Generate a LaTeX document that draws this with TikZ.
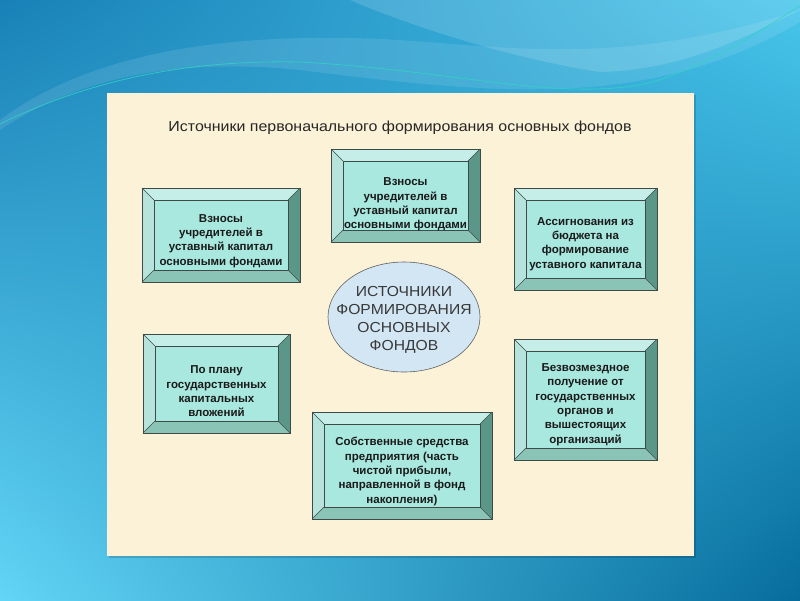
\documentclass[tikz,border=0pt]{standalone}
\usepackage{fontspec}
\setmainfont{Liberation Sans}
\usetikzlibrary{fit,shapes.geometric,shadings}
\definecolor{panel}{HTML}{FCF2D8}
\definecolor{face}{HTML}{A8E8DF}
\definecolor{bevT}{HTML}{C6EEE8}
\definecolor{bevL}{HTML}{B6E4DC}
\definecolor{bevR}{HTML}{5B9788}
\definecolor{bevB}{HTML}{8AC4B6}
\definecolor{edgec}{HTML}{3E4A48}
\definecolor{ellfill}{HTML}{D3E6F4}
\definecolor{txt}{HTML}{1A1A1A}
\definecolor{bgA}{HTML}{1880B6}
\definecolor{bgB}{HTML}{48C6EC}
\definecolor{bgC}{HTML}{62D6F6}
\definecolor{bgD}{HTML}{066C9C}
\definecolor{wave}{HTML}{34D2C4}
\tikzset{
  edgeline/.style={draw=edgec, line width=0.6pt},
  facebox/.style={fill=face, draw=edgec, line width=0.6pt, inner sep=0pt},
  boxtext/.style={align=center, inner sep=0pt, text=txt,
     font=\fontsize{11.5}{14.3}\selectfont\bfseries},
  centerell/.style={ellipse, draw=gray!75!black, fill=ellfill, line width=0.6pt,
     inner sep=0pt, minimum width=152pt, minimum height=110pt},
  centertext/.style={align=center, inner sep=0pt, text=black!78,
     font=\fontsize{14.5}{18}\selectfont},
  titletext/.style={text=black!85, inner sep=0pt, font=\fontsize{14.5}{17}\selectfont}
}
\newcommand\bevelbox[7][7]{%
  \fill[bevT] (#3,#4) -- (#5,#4) -- (#5-12,#4+12) -- (#3+12,#4+12) -- cycle;
  \fill[bevL] (#3,#4) -- (#3+12,#4+12) -- (#3+12,#6-12) -- (#3,#6) -- cycle;
  \fill[bevR] (#5,#4) -- (#5,#6) -- (#5-12,#6-12) -- (#5-12,#4+12) -- cycle;
  \fill[bevB] (#3,#6) -- (#3+12,#6-12) -- (#5-12,#6-12) -- (#5,#6) -- cycle;
  \draw[edgeline] (#3,#4) rectangle (#5,#6);
  \draw[edgeline] (#3,#4) -- (#3+12,#4+12) (#5,#4) -- (#5-12,#4+12)
                  (#3,#6) -- (#3+12,#6-12) (#5,#6) -- (#5-12,#6-12);
  \coordinate (#2-nw) at (#3+12,#4+12);
  \coordinate (#2-se) at (#5-12,#6-12);
  \node[facebox, fit=(#2-nw)(#2-se)] (#2) {};
  \node[boxtext, yshift=-#1pt] (#2-text) at (#2.center) {#7};
}
\begin{document}
\begin{tikzpicture}[x=1pt,y=-1pt]
\useasboundingbox (0,0) rectangle (800,600);
% background
\shade[upper left=bgA, upper right=bgB, lower left=bgC, lower right=bgD] (0,0) rectangle (800,600);
\fill[white, opacity=0.10] (0,120) .. controls (80,60) and (200,35) .. (350,38)
   .. controls (480,40) and (600,75) .. (800,10) -- (800,22)
   .. controls (650,110) and (500,95) .. (300,70) .. controls (150,55) and (60,90) .. (0,130) -- cycle;
\fill[white, opacity=0.14] (350,0) .. controls (420,30) and (520,60) .. (600,72)
   .. controls (680,70) and (740,40) .. (800,10) -- (800,0) -- cycle;
\draw[wave, line width=0.8pt, opacity=0.8] (0,124) .. controls (100,75) and (200,60) .. (300,62)
   .. controls (450,70) and (550,100) .. (640,85) .. controls (700,72) and (760,30) .. (800,6);
% panel
\fill[black, opacity=0.15] (109,95) rectangle (696,558);
\fill[panel] (107,93) rectangle (694,556);
\node[titletext] (title) at (400,128) {\scalebox{1.1}[1]{Источники первоначального формирования основных фондов}};
% boxes
\bevelbox[9]{top}{331}{149}{480}{242}{Взносы\\учредителей в\\уставный капитал\\основными фондами}
\bevelbox[6]{left}{142}{188}{300}{282}{Взносы\\учредителей в\\уставный капитал\\основными фондами}
\bevelbox[5]{right}{514}{188}{657}{290}{Ассигнования из\\бюджета на\\формирование\\уставного капитала}
\bevelbox[8]{lowleft}{143}{334}{290}{433}{По плану\\государственных\\капитальных\\вложений}
\bevelbox[6]{bottom}{312}{412}{492}{519}{Собственные средства\\предприятия (часть\\чистой прибыли,\\направленной в фонд\\накопления)}
\bevelbox[5]{lowright}{514}{339}{657}{460}{Безвозмездное\\получение от\\государственных\\органов и\\вышестоящих\\организаций}
% center
\node[centerell] (center) at (404,317) {};
\node[centertext, yshift=-3pt] (center-text) at (center.center) {\scalebox{1.08}[1]{\begin{tabular}{@{}c@{}}ИСТОЧНИКИ\\ФОРМИРОВАНИЯ\\ОСНОВНЫХ\\ФОНДОВ\end{tabular}}};
\end{tikzpicture}
\end{document}
